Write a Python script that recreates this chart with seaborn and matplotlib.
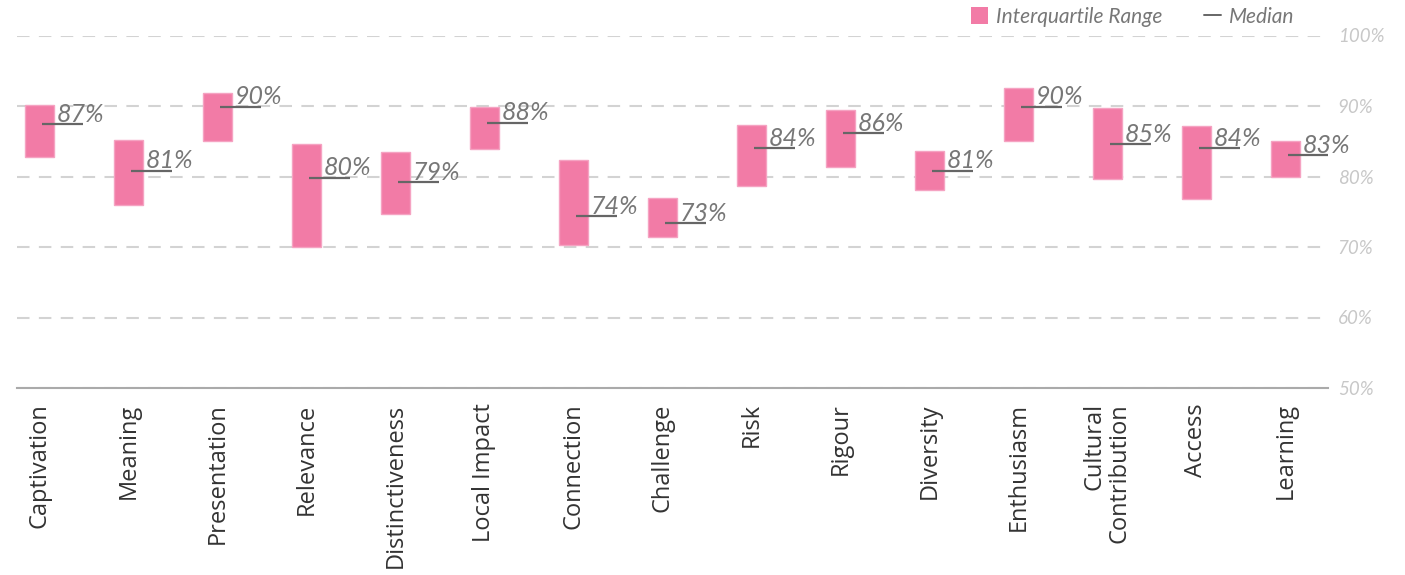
import numpy as np
import pandas as pd
import seaborn as sns
import matplotlib.pyplot as plt
from matplotlib.patches import Patch
from matplotlib.lines import Line2D

# values (percent)
categories = ["Captivation", "Meaning", "Presentation", "Relevance", "Distinctiveness",
              "Local Impact", "Connection", "Challenge", "Risk", "Rigour", "Diversity",
              "Enthusiasm", "Cultural\nContribution", "Access", "Learning"]
q1 = [82.8, 75.9, 85.0, 70.0, 74.7, 83.9, 70.3, 71.4, 78.6, 81.3, 78.1, 85.0, 79.6, 76.8, 80.0]
q3 = [90.2, 85.2, 91.8, 84.6, 83.5, 89.9, 82.3, 77.0, 87.3, 89.5, 83.6, 92.6, 89.7, 87.1, 85.1]
median = [87.4, 80.8, 89.9, 79.8, 79.2, 87.6, 74.4, 73.4, 84.0, 86.1, 80.8, 89.9, 84.6, 84.0, 83.0]
y_ticks = [50, 60, 70, 80, 90, 100]

pink = "#f27ba6"
grey_text = "#777777"

df = pd.DataFrame({"Measure": categories, "IQR": np.subtract(q3, q1)})

sns.set_style("white")
plt.rcParams['font.family'] = ['Open Sans', 'DejaVu Sans']

fig = plt.figure(figsize=(14.05, 5.75), dpi=100)
ax = fig.add_axes([17 / 1405, 1 - 388 / 575, (1328 - 17) / 1405, (388 - 35.5) / 575])

sns.barplot(data=df, x="Measure", y="IQR", bottom=q1, color=pink, saturation=1,
            width=0.33, edgecolor="#f5a3c2", linewidth=1, ax=ax, zorder=3)

# median markers and labels
pos = np.arange(len(categories))
ax.hlines(median, pos + 0.03, pos + 0.49, color="#666666", lw=1.6, zorder=4)
for i, m in enumerate(median):
    ax.text(i + 0.2, m + 0.35, f"{m:.0f}%", fontsize=18, style="italic",
            family=["Lato", "DejaVu Sans"], color=grey_text, va="baseline", zorder=5)

ax.set_ylim(50, 100)
ax.set_xlim(-0.25, len(categories) - 0.52)
ax.set_yticks(y_ticks)
ax.set_yticklabels([f"{t}%" for t in y_ticks])
ax.yaxis.tick_right()
ax.yaxis.grid(True, linestyle=(0, (6, 4.5)), color="#d3d3d3", lw=1.5)
ax.set_axisbelow(True)
ax.set_xlabel("")
ax.set_ylabel("")

for side in ["left", "right", "top"]:
    ax.spines[side].set_visible(False)
ax.spines["bottom"].set_color("#aaaaaa")
ax.spines["bottom"].set_linewidth(1.5)
ax.spines["bottom"].set_zorder(6)

ax.tick_params(axis="y", length=0, pad=7, labelsize=13.5, labelcolor="#c8c8c8")
for lbl in ax.get_yticklabels():
    lbl.set_style("italic")
    lbl.set_family(["Lato", "DejaVu Sans"])

ax.tick_params(axis="x", length=0, pad=11, labelsize=17, labelcolor="#333333", labelrotation=90)
for lbl in ax.get_xticklabels():
    lbl.set_multialignment("right")
    lbl.set_linespacing(1.05)

# legend on top right
handles = [Patch(facecolor=pink, edgecolor="none"),
           Line2D([], [], color="#666666", lw=1.4)]
leg = fig.legend(handles, ["Interquartile Range", "Median"], loc="center right",
                 bbox_to_anchor=(1313 / 1405, 1 - 17 / 575), ncol=2, frameon=False,
                 handlelength=0.85, handleheight=0.85, handletextpad=0.35, columnspacing=2.0,
                 prop={"family": ["Lato", "DejaVu Sans"], "style": "italic", "size": 15})
for t in leg.get_texts():
    t.set_color(grey_text)

plt.savefig("out.png", dpi=100)
